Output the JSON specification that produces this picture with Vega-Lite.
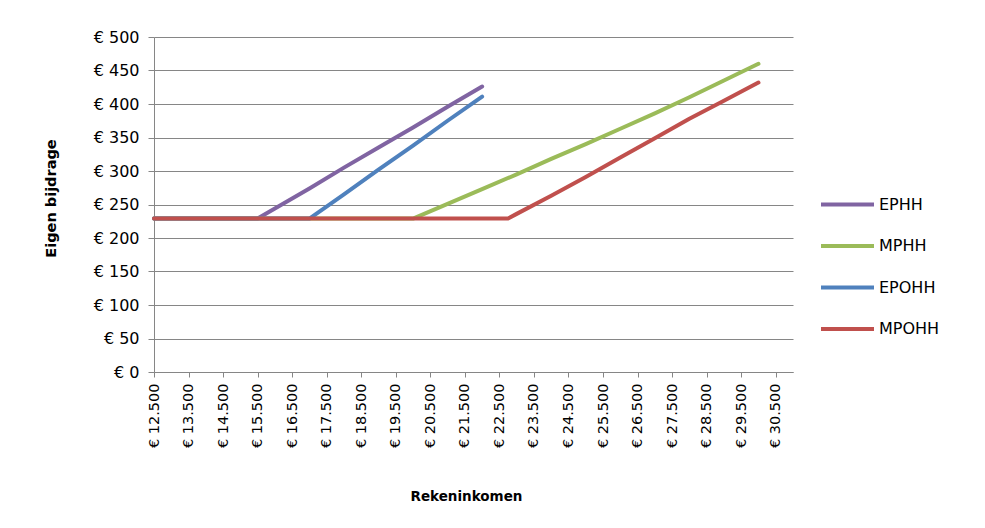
{
  "$schema": "https://vega.github.io/schema/vega-lite/v6.json",
  "description": "Eigen bijdrage naar rekeninkomen",
  "autosize": {"type": "none"},
  "width": 639,
  "height": 335,
  "padding": {"left": 154, "top": 37, "right": 192, "bottom": 156},
  "background": "white",
  "config": {
    "font": "DejaVu Sans",
    "view": {"stroke": null},
    "axis": {
      "domainColor": "#868686",
      "tickColor": "#868686",
      "gridColor": "#868686",
      "labelColor": "#000000",
      "titleColor": "#000000",
      "labelFont": "DejaVu Sans",
      "titleFont": "DejaVu Sans"
    }
  },
  "data": {
    "values": [
      {"inkomen": 12500, "bijdrage": 229, "reeks": "EPHH"},
      {"inkomen": 15500, "bijdrage": 229, "reeks": "EPHH"},
      {"inkomen": 16000, "bijdrage": 244, "reeks": "EPHH"},
      {"inkomen": 17000, "bijdrage": 274, "reeks": "EPHH"},
      {"inkomen": 18000, "bijdrage": 305, "reeks": "EPHH"},
      {"inkomen": 19000, "bijdrage": 335, "reeks": "EPHH"},
      {"inkomen": 20000, "bijdrage": 365, "reeks": "EPHH"},
      {"inkomen": 21000, "bijdrage": 396, "reeks": "EPHH"},
      {"inkomen": 22000, "bijdrage": 426, "reeks": "EPHH"},
      {"inkomen": 12500, "bijdrage": 229, "reeks": "MPHH"},
      {"inkomen": 20000, "bijdrage": 229, "reeks": "MPHH"},
      {"inkomen": 21000, "bijdrage": 251, "reeks": "MPHH"},
      {"inkomen": 22000, "bijdrage": 273, "reeks": "MPHH"},
      {"inkomen": 23000, "bijdrage": 295, "reeks": "MPHH"},
      {"inkomen": 24000, "bijdrage": 318, "reeks": "MPHH"},
      {"inkomen": 25000, "bijdrage": 340, "reeks": "MPHH"},
      {"inkomen": 26000, "bijdrage": 363, "reeks": "MPHH"},
      {"inkomen": 27000, "bijdrage": 386, "reeks": "MPHH"},
      {"inkomen": 28000, "bijdrage": 410, "reeks": "MPHH"},
      {"inkomen": 29000, "bijdrage": 435, "reeks": "MPHH"},
      {"inkomen": 30000, "bijdrage": 460, "reeks": "MPHH"},
      {"inkomen": 12500, "bijdrage": 229, "reeks": "EPOHH"},
      {"inkomen": 17000, "bijdrage": 229, "reeks": "EPOHH"},
      {"inkomen": 18000, "bijdrage": 265, "reeks": "EPOHH"},
      {"inkomen": 19000, "bijdrage": 302, "reeks": "EPOHH"},
      {"inkomen": 20000, "bijdrage": 338, "reeks": "EPOHH"},
      {"inkomen": 21000, "bijdrage": 375, "reeks": "EPOHH"},
      {"inkomen": 22000, "bijdrage": 411, "reeks": "EPOHH"},
      {"inkomen": 12500, "bijdrage": 229, "reeks": "MPOHH"},
      {"inkomen": 22750, "bijdrage": 229, "reeks": "MPOHH"},
      {"inkomen": 23000, "bijdrage": 236, "reeks": "MPOHH"},
      {"inkomen": 24000, "bijdrage": 263, "reeks": "MPOHH"},
      {"inkomen": 25000, "bijdrage": 291, "reeks": "MPOHH"},
      {"inkomen": 26000, "bijdrage": 320, "reeks": "MPOHH"},
      {"inkomen": 27000, "bijdrage": 349, "reeks": "MPOHH"},
      {"inkomen": 28000, "bijdrage": 378, "reeks": "MPOHH"},
      {"inkomen": 29000, "bijdrage": 405, "reeks": "MPOHH"},
      {"inkomen": 30000, "bijdrage": 432, "reeks": "MPOHH"}
    ]
  },
  "mark": {"type": "line", "strokeWidth": 4, "strokeCap": "round", "strokeJoin": "round"},
  "encoding": {
    "x": {
      "field": "inkomen",
      "type": "quantitative",
      "scale": {"domain": [12500, 31000], "nice": false, "zero": false},
      "axis": {
        "title": "Rekeninkomen",
        "titleFontSize": 13.5,
        "titleFontWeight": "bold",
        "titlePadding": 42,
        "titleX": 312,
        "values": [12500, 13500, 14500, 15500, 16500, 17500, 18500, 19500, 20500, 21500, 22500, 23500, 24500, 25500, 26500, 27500, 28500, 29500, 30500],
        "labelExpr": "'€ ' + replace(format(datum.value, ','), ',', '.')",
        "labelAngle": -90,
        "labelFontSize": 14.5,
        "labelPadding": 6,
        "tickSize": 5,
        "grid": false
      }
    },
    "y": {
      "field": "bijdrage",
      "type": "quantitative",
      "scale": {"domain": [0, 500], "nice": false},
      "axis": {
        "title": "Eigen bijdrage",
        "titleFontSize": 14.5,
        "titleFontWeight": "bold",
        "titlePadding": 35,
        "titleY": 161,
        "values": [0, 50, 100, 150, 200, 250, 300, 350, 400, 450, 500],
        "labelExpr": "'€ ' + datum.value",
        "labelFontSize": 16,
        "labelPadding": 9,
        "tickSize": 6,
        "grid": true
      }
    },
    "color": {
      "field": "reeks",
      "type": "nominal",
      "scale": {
        "domain": ["EPHH", "MPHH", "EPOHH", "MPOHH"],
        "range": ["#8064A2", "#9BBB59", "#4F81BD", "#C0504D"]
      },
      "legend": {
        "title": null,
        "orient": "none",
        "legendX": 665,
        "legendY": 139,
        "symbolType": "stroke",
        "symbolSize": 2809,
        "symbolStrokeWidth": 4,
        "labelFontSize": 16,
        "labelColor": "#000000",
        "labelOffset": 3,
        "rowPadding": 4.5
      }
    }
  }
}
